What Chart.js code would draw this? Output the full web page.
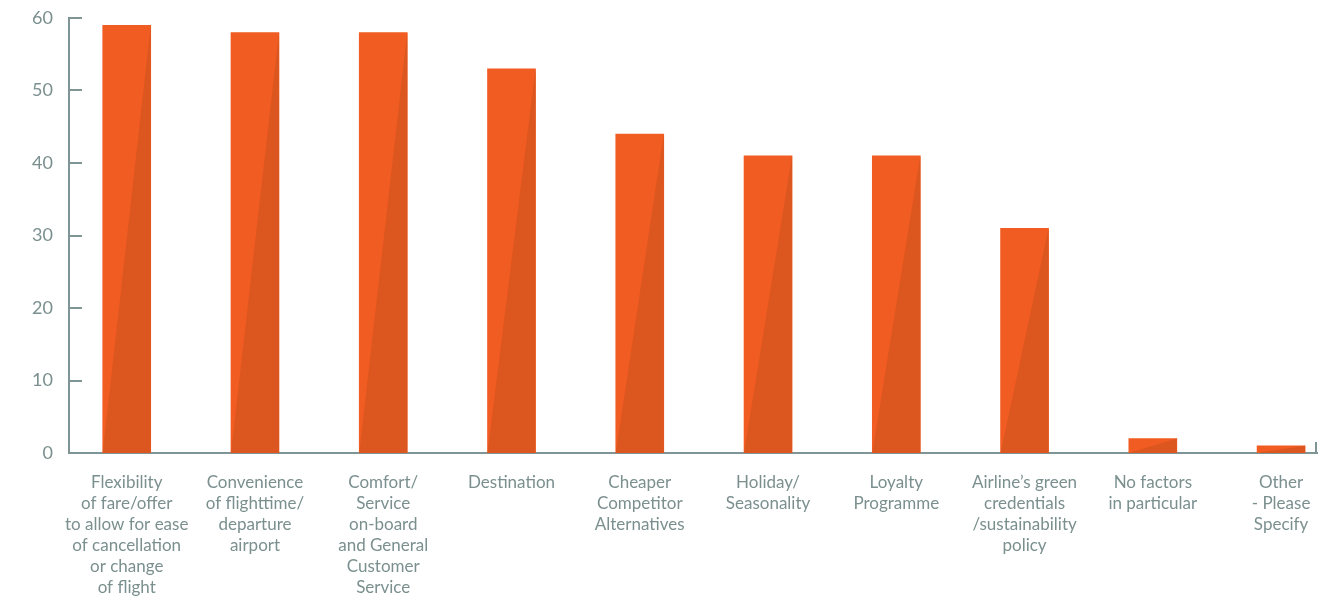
<!DOCTYPE html>
<html>
<head>
<meta charset="utf-8">
<script src="https://cdn.jsdelivr.net/npm/chart.js@4/dist/chart.umd.min.js"></script>
<style>
  html, body { margin: 0; padding: 0; background: #fff; overflow: hidden; }
  #wrap { width: 1338px; height: 596px; }
</style>
</head>
<body>
<div id="wrap"><canvas id="factors"></canvas></div>
<script>
const categories = [
    ['Flexibility', 'of fare/offer', 'to allow for ease', 'of cancellation', 'or change', 'of flight'],
    ['Convenience', 'of flighttime/', 'departure', 'airport'],
    ['Comfort/', 'Service', 'on-board', 'and General', 'Customer', 'Service'],
    ['Destination'],
    ['Cheaper', 'Competitor', 'Alternatives'],
    ['Holiday/', 'Seasonality'],
    ['Loyalty', 'Programme'],
    ['Airline\u2019s green', 'credentials', '/sustainability', 'policy'],
    ['No factors', 'in particular'],
    ['Other', '- Please', 'Specify']
];
const values = [59, 58, 58, 53, 44, 41, 41, 31, 2, 1];
const yTicks = [0, 10, 20, 30, 40, 50, 60];

const AXIS = '#7f9494';
const TEXT = '#7b8f8f';
const BAR_LIGHT = '#f15c22';
const BAR_DARK = '#dc561f';

// darker diagonal half on every bar + inward tick marks on the axes
const barShade = {
    id: 'barShade',
    afterDatasetsDraw(chart) {
        const ctx = chart.ctx;
        ctx.save();
        ctx.fillStyle = BAR_DARK;
        chart.getDatasetMeta(0).data.forEach(bar => {
            const p = bar.getProps(['x', 'y', 'base', 'width'], true);
            const l = p.x - p.width / 2, r = p.x + p.width / 2;
            ctx.beginPath();
            ctx.moveTo(l, p.base);
            ctx.lineTo(r, p.y);
            ctx.lineTo(r, p.base);
            ctx.closePath();
            ctx.fill();
        });
        ctx.restore();
    },
    afterDraw(chart) {
        const ctx = chart.ctx;
        const y = chart.scales.y;
        const area = chart.chartArea;
        ctx.save();
        ctx.strokeStyle = AXIS;
        ctx.lineWidth = 2;
        ctx.beginPath();
        y.ticks.forEach(t => {
            if (t.value === 0) return;
            const py = Math.round(y.getPixelForValue(t.value));
            ctx.moveTo(area.left, py);
            ctx.lineTo(area.left + 13, py);
        });
        ctx.moveTo(area.right - 1, area.bottom);
        ctx.lineTo(area.right - 1, area.bottom - 11);
        ctx.stroke();
        ctx.restore();
    }
};

new Chart(document.getElementById('factors'), {
    type: 'bar',
    data: {
        datasets: [{
            data: values.map((v, i) => ({ x: i, y: v })),
            backgroundColor: BAR_LIGHT,
            borderWidth: 0,
            barThickness: 48
        }]
    },
    options: {
        responsive: true,
        maintainAspectRatio: false,
        animation: false,
        layout: { padding: { top: 18, right: 21, left: 0, bottom: 0 } },
        plugins: {
            legend: { display: false },
            tooltip: { enabled: false }
        },
        scales: {
            x: {
                type: 'linear',
                offset: false,
                min: -0.45,
                max: 9.28,
                afterBuildTicks: s => { s.ticks = categories.map((c, i) => ({ value: i })); },
                afterFit: s => { s.height = 143; s.paddingLeft = 0; s.paddingRight = 0; },
                grid: { display: false, drawTicks: false, offset: false },
                border: { color: AXIS, width: 2 },
                ticks: {
                    autoSkip: false,
                    maxRotation: 0,
                    padding: 19,
                    color: TEXT,
                    font: { family: 'Lato', size: 17, lineHeight: 1.235 },
                    callback: v => categories[v]
                }
            },
            y: {
                min: 0,
                max: 60,
                afterBuildTicks: s => { s.ticks = yTicks.map(v => ({ value: v })); },
                afterFit: s => { s.width = 69; s.paddingTop = 0; s.paddingBottom = 0; },
                grid: { display: false, drawTicks: false },
                border: { color: AXIS, width: 2 },
                ticks: {
                    padding: 16,
                    color: TEXT,
                    font: { family: 'Lato', size: 18 }
                }
            }
        }
    },
    plugins: [barShade]
});
</script>
</body>
</html>
